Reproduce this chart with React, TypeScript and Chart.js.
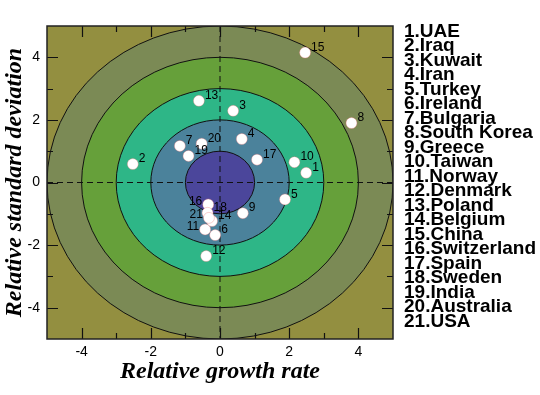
import React, { useEffect, useRef } from 'react';
import { Chart, registerables } from 'chart.js';

Chart.register(...registerables);

const COUNTRIES = [
  'UAE', 'Iraq', 'Kuwait', 'Iran', 'Turkey', 'Ireland', 'Bulgaria', 'South Korea',
  'Greece', 'Taiwan', 'Norway', 'Denmark', 'Poland', 'Belgium', 'China',
  'Switzerland', 'Spain', 'Sweden', 'India', 'Australia', 'USA',
];
const GROWTH_RATE = [
  2.49, -2.52, 0.38, 0.63, 1.88, -0.14, -1.16, 3.80, 0.66, 2.15, -0.43,
  -0.40, -0.61, -0.23, 2.46, -0.34, 1.07, -0.36, -0.91, -0.53, -0.32,
];
const STD_DEVIATION = [
  0.31, 0.59, 2.29, 1.39, -0.54, -1.68, 1.17, 1.90, -0.98, 0.65, -1.50,
  -2.35, 2.61, -1.23, 4.15, -0.70, 0.73, -0.97, 0.85, 1.24, -1.13,
];
const RING_RADII = [5, 4, 3, 2, 1];
const AXIS_TICKS = [-4, -2, 0, 2, 4];
const TICK_MARKS = [-4, -3, -2, -1, 0, 1, 2, 3, 4];
const LEFT_LABELLED = [11, 16, 21];

const RING_COLORS = ['#7B8A55', '#66A03A', '#2EB687', '#4B829B', '#4B469B'];
const OUTER_COLOR = '#938F40';
const SANS = '"Liberation Sans", Arial, Helvetica, sans-serif';
const SERIF = '"Liberation Serif", "Times New Roman", serif';

const targetPlugin = {
  id: 'target',
  beforeDatasetsDraw(chart: any) {
    const { ctx, chartArea: a, scales } = chart;
    const x = scales.x, y = scales.y;
    ctx.save();
    ctx.beginPath();
    ctx.rect(a.left, a.top, a.right - a.left, a.bottom - a.top);
    ctx.clip();
    ctx.fillStyle = OUTER_COLOR;
    ctx.fillRect(a.left, a.top, a.right - a.left, a.bottom - a.top);
    const cx = x.getPixelForValue(0);
    const cy = y.getPixelForValue(0);
    RING_RADII.forEach((r, i) => {
      const rx = x.getPixelForValue(r) - cx;
      const ry = cy - y.getPixelForValue(r);
      ctx.beginPath();
      ctx.ellipse(cx, cy, rx, ry, 0, 0, Math.PI * 2);
      ctx.fillStyle = RING_COLORS[i];
      ctx.fill();
      ctx.lineWidth = 1;
      ctx.strokeStyle = '#111';
      ctx.stroke();
    });
    ctx.setLineDash([6, 4]);
    ctx.lineWidth = 1;
    ctx.strokeStyle = '#111';
    ctx.beginPath();
    ctx.moveTo(cx, a.top);
    ctx.lineTo(cx, a.bottom);
    ctx.moveTo(a.left, cy);
    ctx.lineTo(a.right, cy);
    ctx.stroke();
    ctx.restore();
  },
  afterDatasetsDraw(chart: any) {
    const { ctx, chartArea: a, scales } = chart;
    const x = scales.x, y = scales.y;
    ctx.save();
    // tick marks, inward on all sides
    ctx.strokeStyle = '#111';
    ctx.lineWidth = 1.2;
    ctx.beginPath();
    TICK_MARKS.forEach((v) => {
      const len = v % 2 === 0 ? 11 : 6;
      const px = Math.round(x.getPixelForValue(v)) + 0.5;
      ctx.moveTo(px, a.bottom); ctx.lineTo(px, a.bottom - len);
      ctx.moveTo(px, a.top); ctx.lineTo(px, a.top + len);
      const py = Math.round(y.getPixelForValue(v)) + 0.5;
      ctx.moveTo(a.left, py); ctx.lineTo(a.left + len, py);
      ctx.moveTo(a.right, py); ctx.lineTo(a.right - len, py);
    });
    ctx.stroke();
    // frame
    ctx.lineWidth = 1.5;
    ctx.strokeStyle = '#222';
    ctx.strokeRect(a.left, a.top, a.right - a.left, a.bottom - a.top);

    // point labels
    const meta = chart.getDatasetMeta(0);
    ctx.font = `12px ${SANS}`;
    ctx.fillStyle = '#000';
    ctx.textBaseline = 'middle';
    meta.data.forEach((pt: any, i: number) => {
      const id = i + 1;
      if (LEFT_LABELLED.includes(id)) {
        ctx.textAlign = 'right';
        ctx.fillText(String(id), pt.x - 6, pt.y - 3);
      } else {
        ctx.textAlign = 'left';
        ctx.fillText(String(id), pt.x + 6, pt.y - 5);
      }
    });

    // legend list
    ctx.font = `bold 19px ${SANS}`;
    ctx.textAlign = 'left';
    ctx.textBaseline = 'alphabetic';
    COUNTRIES.forEach((c, i) => {
      ctx.fillText(`${i + 1}.${c}`, 404, 36.5 + i * 14.5);
    });
    ctx.restore();
  },
};

export default function App() {
  const ref = useRef<HTMLCanvasElement | null>(null);
  useEffect(() => {
    document.body.style.margin = '0';
    const canvas = ref.current;
    if (!canvas) return;
    const points = GROWTH_RATE.map((g, i) => ({ x: g, y: STD_DEVIATION[i] }));
    const chart = new Chart(canvas, {
      type: 'scatter',
      data: {
        datasets: [
          {
            data: points,
            pointRadius: 5.5,
            pointHoverRadius: 5.5,
            backgroundColor: '#ffffff',
            borderColor: 'rgba(235,110,110,0.55)',
            borderWidth: 0.6,
          },
        ],
      },
      options: {
        animation: false,
        responsive: false,
        events: [],
        layout: { padding: { top: 26, right: 147, bottom: 11, left: 3 } },
        plugins: { legend: { display: false }, tooltip: { enabled: false } },
        scales: {
          x: {
            type: 'linear',
            min: -5,
            max: 5,
            grid: { display: false, drawTicks: false },
            border: { display: false },
            afterBuildTicks: (s: any) => { s.ticks = AXIS_TICKS.map((v) => ({ value: v })); },
            afterFit: (s: any) => { s.height = 45; },
            ticks: { color: '#000', padding: 6, font: { family: SANS, size: 14, lineHeight: 1 } },
            title: {
              display: true,
              text: 'Relative growth rate',
              color: '#000',
              padding: { top: 0, bottom: 0 },
              font: { family: SERIF, size: 24, weight: 'bold', style: 'italic', lineHeight: 1 },
            },
          },
          y: {
            type: 'linear',
            min: -5,
            max: 5,
            grid: { display: false, drawTicks: false },
            border: { display: false },
            afterBuildTicks: (s: any) => { s.ticks = AXIS_TICKS.map((v) => ({ value: v })); },
            afterFit: (s: any) => { s.width = 44; },
            ticks: { color: '#000', padding: 7, font: { family: SANS, size: 14, lineHeight: 1 } },
            title: {
              display: true,
              text: 'Relative standard deviation',
              color: '#000',
              padding: { top: 0, bottom: 0 },
              font: { family: SERIF, size: 24, weight: 'bold', style: 'italic', lineHeight: 1 },
            },
          },
        },
      },
      plugins: [targetPlugin],
    } as any);
    return () => chart.destroy();
  }, []);
  return (
    <div style={{ width: 540, height: 395, background: '#fff' }}>
      <canvas ref={ref} width={540} height={395} />
    </div>
  );
}
